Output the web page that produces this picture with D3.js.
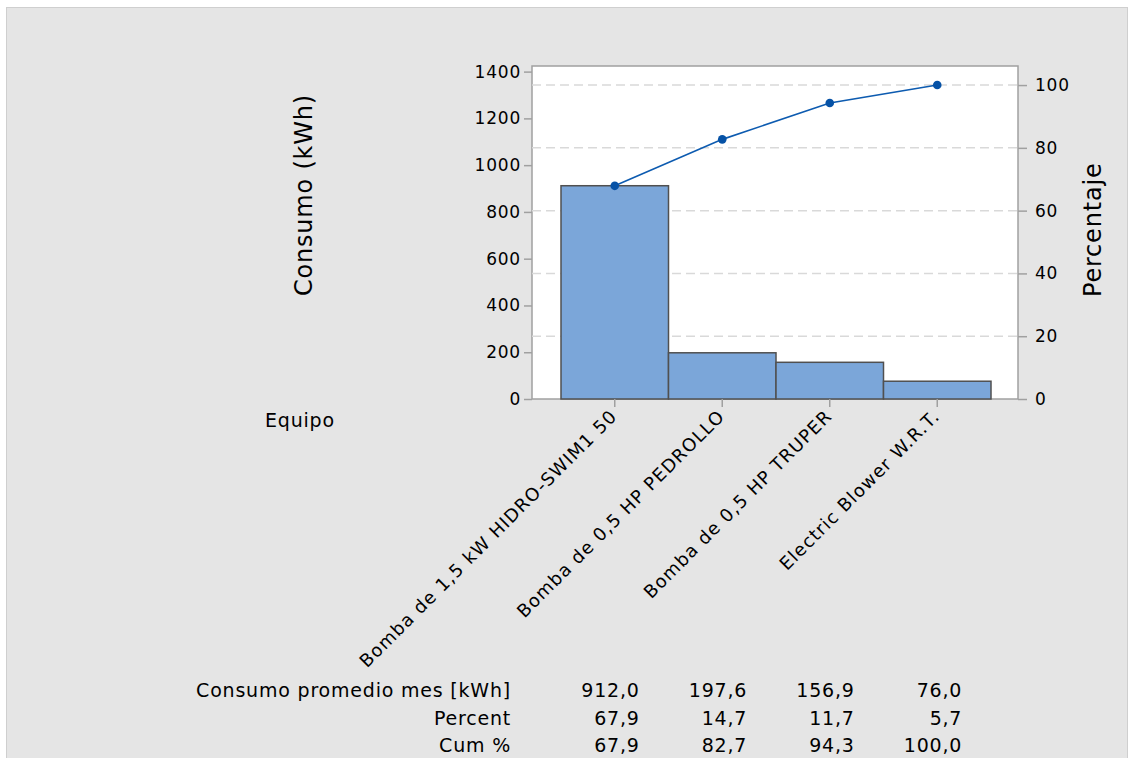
<!DOCTYPE html>
<html>
<head>
<meta charset="utf-8">
<script src="https://cdn.jsdelivr.net/npm/d3@7"></script>
<style>
  body { margin: 0; background: #fff; }
  text { font-family: "DejaVu Sans", sans-serif; fill: #000; letter-spacing: 0.8px; }
</style>
</head>
<body>
<svg width="1132" height="758"></svg>
<script>
var categories = ["Bomba de 1,5 kW HIDRO-SWIM1 50", "Bomba de 0,5 HP PEDROLLO", "Bomba de 0,5 HP TRUPER", "Electric Blower W.R.T."];
var consumo = [912.0, 197.6, 156.9, 76.0];
var percent = [67.9, 14.7, 11.7, 5.7];
var cumPercent = [67.9, 82.7, 94.3, 100.0];
var leftTicks = [0, 200, 400, 600, 800, 1000, 1200, 1400];
var rightTicks = [0, 20, 40, 60, 80, 100];
var rowLabels = ["Consumo promedio mes [kWh]", "Percent", "Cum %"];

var svg = d3.select("svg");
var total = d3.sum(consumo);

// panel background
svg.append("rect")
   .attr("x", 6.5).attr("y", 7.5)
   .attr("width", 1121).attr("height", 760)
   .attr("fill", "#e5e5e5")
   .attr("stroke", "#cfcfcf");

var pLeft = 532, pRight = 1018, pTop = 66, pBottom = 399;
var yMax = 1424;

var x = d3.scaleBand().domain(categories).range([561, 991]).padding(0);
var y = d3.scaleLinear().domain([0, yMax]).range([pBottom, pTop]);
var yPct = d3.scaleLinear().domain([0, yMax / total * 100]).range([pBottom, pTop]);

// plot area
svg.append("rect")
   .attr("x", pLeft).attr("y", pTop)
   .attr("width", pRight - pLeft).attr("height", pBottom - pTop)
   .attr("fill", "#fff")
   .attr("stroke", "#a0a0a0")
   .attr("stroke-width", 1.5);

// dashed gridlines on percent ticks
svg.selectAll(".grid")
   .data(rightTicks.filter(function(d) { return d > 0; }))
   .enter().append("line")
   .attr("x1", pLeft).attr("x2", pRight)
   .attr("y1", function(d) { return yPct(d); })
   .attr("y2", function(d) { return yPct(d); })
   .attr("stroke", "#d9d9d9")
   .attr("stroke-width", 1.5)
   .attr("stroke-dasharray", "9,5");

// bars
svg.selectAll(".bar")
   .data(consumo)
   .enter().append("rect")
   .attr("x", function(d, i) { return x(categories[i]); })
   .attr("y", function(d) { return y(d); })
   .attr("width", x.bandwidth())
   .attr("height", function(d) { return pBottom - y(d); })
   .attr("fill", "#7ba6d9")
   .attr("stroke", "#505050")
   .attr("stroke-width", 1.5);

// cumulative line
var line = d3.line()
   .x(function(d, i) { return x(categories[i]) + x.bandwidth() / 2; })
   .y(function(d) { return yPct(d); });

svg.append("path")
   .datum(cumPercent)
   .attr("d", line)
   .attr("fill", "none")
   .attr("stroke", "#0d5bb0")
   .attr("stroke-width", 1.6);

svg.selectAll(".pt")
   .data(cumPercent)
   .enter().append("circle")
   .attr("cx", function(d, i) { return x(categories[i]) + x.bandwidth() / 2; })
   .attr("cy", function(d) { return yPct(d); })
   .attr("r", 4.3)
   .attr("fill", "#0652a6");

// axes
function styleAxis(g) {
  g.select(".domain").remove();
  g.selectAll(".tick line").attr("stroke", "#a0a0a0").attr("stroke-width", 1.5);
  g.selectAll(".tick text").style("font-size", "17px").style("font-family", null);
}

svg.append("g")
   .attr("transform", "translate(" + pLeft + ",0)")
   .call(d3.axisLeft(y).tickValues(leftTicks).tickFormat(d3.format("d")).tickSize(8).tickPadding(3))
   .call(styleAxis);

svg.append("g")
   .attr("transform", "translate(" + pRight + ",0)")
   .call(d3.axisRight(yPct).tickValues(rightTicks).tickSize(9).tickPadding(8))
   .call(styleAxis);

var xAxis = svg.append("g")
   .attr("transform", "translate(0," + pBottom + ")")
   .call(d3.axisBottom(x).tickSize(8).tickFormat(""));
xAxis.select(".domain").remove();
xAxis.selectAll(".tick line").attr("stroke", "#a0a0a0").attr("stroke-width", 1.5);

// rotated category labels
svg.selectAll(".cat")
   .data(categories)
   .enter().append("text")
   .attr("transform", function(d) {
     return "translate(" + (x(d) + x.bandwidth() / 2 - 1) + "," + (pBottom + 14) + ") rotate(-45)";
   })
   .attr("text-anchor", "end")
   .attr("dy", "0.35em")
   .style("font-size", "18px")
   .style("letter-spacing", "1.1px")
   .text(function(d) { return d; });

// axis titles
svg.append("text")
   .attr("transform", "translate(312,296) rotate(-90)")
   .attr("text-anchor", "start")
   .style("font-size", "24px")
   .text("Consumo (kWh)");

svg.append("text")
   .attr("transform", "translate(1101,297) rotate(-90)")
   .attr("text-anchor", "start")
   .style("font-size", "24px")
   .text("Percentaje");

svg.append("text")
   .attr("x", 265).attr("y", 427)
   .style("font-size", "19px")
   .text("Equipo");

// table under chart
var rows = [consumo, percent, cumPercent];
var rowY = [697, 724.5, 752];
var fmt = function(v) { return v.toFixed(1).replace(".", ","); };

svg.selectAll(".rowlab")
   .data(rowLabels)
   .enter().append("text")
   .attr("x", 511)
   .attr("y", function(d, i) { return rowY[i]; })
   .attr("text-anchor", "end")
   .style("font-size", "19px")
   .text(function(d) { return d; });

rows.forEach(function(r, ri) {
  svg.selectAll(".cell" + ri)
     .data(r)
     .enter().append("text")
     .attr("x", function(d, i) { return x(categories[i]) + x.bandwidth() / 2 + 25; })
     .attr("y", rowY[ri])
     .attr("text-anchor", "end")
     .style("font-size", "19px")
     .text(function(d) { return fmt(d); });
});
</script>
</body>
</html>
